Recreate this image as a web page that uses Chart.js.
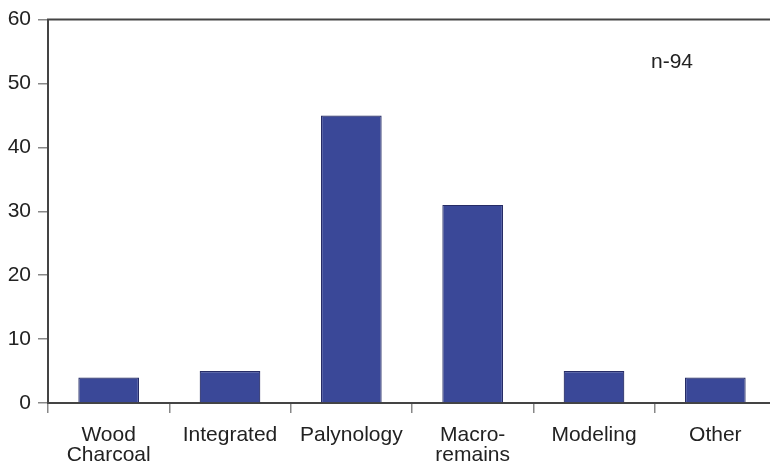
<!DOCTYPE html>
<html>
<head>
<meta charset="utf-8">
<script src="https://cdn.jsdelivr.net/npm/chart.js@4/dist/chart.umd.min.js"></script>
<style>
html,body{margin:0;padding:0;background:#fff;overflow:hidden;width:770px;height:463px;}
#wrap{width:770px;height:463px;position:relative;overflow:hidden;}
canvas{display:block;}
</style>
</head>
<body>
<div id="wrap"><canvas id="c" width="776" height="463"></canvas></div>
<script>
const categories = [['Wood','Charcoal'], 'Integrated', 'Palynology', ['Macro-','remains'], 'Modeling', 'Other'];
const values = [4, 5, 45, 31, 5, 4];
const yTicks = [0, 10, 20, 30, 40, 50, 60];
const annotationText = 'n-94';

const FONT = '"Liberation Sans", Arial, sans-serif';

const extras = {
  id: 'extras',
  afterDraw(chart) {
    const {ctx, chartArea} = chart;
    ctx.save();
    ctx.strokeStyle = '#444';
    ctx.lineWidth = 2;
    ctx.beginPath();
    ctx.moveTo(chartArea.left - 1, chartArea.top);
    ctx.lineTo(chart.width, chartArea.top);
    ctx.stroke();
    ctx.fillStyle = '#222';
    ctx.font = '21px ' + FONT;
    ctx.textAlign = 'left';
    ctx.textBaseline = 'middle';
    ctx.fillText(annotationText, 651, 62);
    ctx.restore();
  }
};

new Chart(document.getElementById('c'), {
  type: 'bar',
  data: {
    labels: categories,
    datasets: [{
      data: values,
      backgroundColor: '#3a4898',
      borderColor: '#262c66',
      borderWidth: 1.2,
      barPercentage: 0.5,
      categoryPercentage: 1.0
    }]
  },
  options: {
    responsive: false,
    animation: false,
    devicePixelRatio: 1,
    layout: { padding: { top: 18, right: 0, left: 0, bottom: 0 } },
    plugins: { legend: { display: false }, tooltip: { enabled: false } },
    scales: {
      x: {
        offset: true,
        grid: {
          display: true,
          offset: true,
          drawOnChartArea: false,
          drawTicks: true,
          tickLength: 10,
          color: '#888',
          lineWidth: 1.5
        },
        border: { display: true, color: '#444', width: 2 },
        ticks: {
          color: '#222',
          font: { family: FONT, size: 21, lineHeight: 0.95 },
          padding: 12,
          maxRotation: 0,
          autoSkip: false
        },
        afterFit(scale) { scale.height = 60; }
      },
      y: {
        min: 0,
        max: 60,
        afterBuildTicks(scale) { scale.ticks = yTicks.map(v => ({ value: v })); },
        grid: {
          display: true,
          drawOnChartArea: false,
          drawTicks: true,
          tickLength: 10,
          color: '#888',
          lineWidth: 1.5
        },
        border: { display: true, color: '#444', width: 2 },
        ticks: {
          color: '#222',
          font: { family: FONT, size: 21 },
          padding: 7
        },
        afterFit(scale) { scale.width = 48; }
      }
    }
  },
  plugins: [extras]
});
</script>
</body>
</html>
